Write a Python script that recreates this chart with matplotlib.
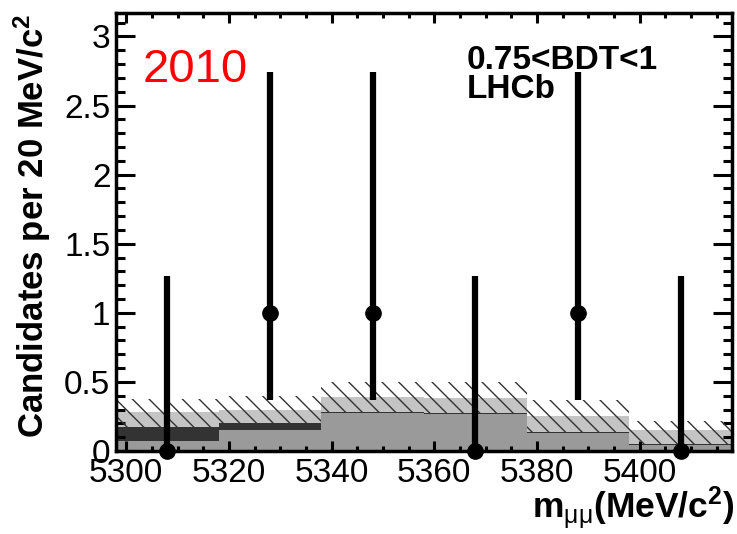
import matplotlib
matplotlib.use("Agg")
import matplotlib.pyplot as plt
import numpy as np
from matplotlib.ticker import MultipleLocator

plt.rcParams['font.family'] = ['Liberation Sans', 'DejaVu Sans']
plt.rcParams['hatch.linewidth'] = 1.0
plt.rcParams['mathtext.fontset'] = 'custom'
plt.rcParams['mathtext.rm'] = 'Liberation Sans:bold'
plt.rcParams['mathtext.it'] = 'Liberation Sans'
plt.rcParams['mathtext.bf'] = 'Liberation Sans:bold'

# Data
bin_edges = [5298, 5318, 5338, 5358, 5378, 5398, 5418]
bin_centers = [5308, 5328, 5348, 5368, 5388, 5408]
comb_bkg = [0.075, 0.15, 0.272, 0.268, 0.133, 0.04]
peak_bkg = [0.097, 0.05, 0.008, 0.007, 0.007, 0.01]
band_inner = [0.112, 0.10, 0.11, 0.105, 0.11, 0.10]
band_outer = [0.205, 0.20, 0.22, 0.225, 0.23, 0.17]
counts = [0, 1, 1, 0, 1, 0]
err_low = [0.0, 0.63, 0.63, 0.0, 0.63, 0.0]
err_high = [1.27, 1.74, 1.74, 1.27, 1.74, 1.27]
yticks = [0, 0.5, 1, 1.5, 2, 2.5, 3]
ytick_labels = ['0', '0.5', '1', '1.5', '2', '2.5', '3']

W, H = 737, 534
fig = plt.figure(figsize=(W / 100, H / 100), dpi=100)
ax = fig.add_axes([116 / W, 1 - 451 / H, (732 - 116) / W, (451 - 13) / H])

widths = np.diff(bin_edges)
comb = np.array(comb_bkg)
peak = np.array(peak_bkg)
base_top = comb + peak

ax.bar(bin_centers, comb, width=widths, color='#9a9a9a', linewidth=0, zorder=1)
ax.bar(bin_centers, peak, width=widths, bottom=comb, color='#333333', linewidth=0, zorder=1)
ax.bar(bin_centers, band_inner, width=widths, bottom=base_top, color='#c4c4c4', linewidth=0, zorder=1)
ax.bar(bin_centers, band_outer, width=widths, bottom=base_top, fill=False, hatch='\\\\',
       edgecolor='#333333', linewidth=0, zorder=2)

ax.errorbar(bin_centers, counts, yerr=[err_low, err_high], fmt='o', color='black',
            markersize=11, elinewidth=4.5, capsize=0, zorder=5, clip_on=False)

ax.set_xlim(5298, 5418)
ax.set_ylim(0, 3.17)
ax.xaxis.set_major_locator(MultipleLocator(20))
ax.xaxis.set_minor_locator(MultipleLocator(5))
ax.yaxis.set_minor_locator(MultipleLocator(0.1))
ax.set_yticks(yticks)
ax.set_yticklabels(ytick_labels)

ax.tick_params(axis='both', which='both', direction='in', top=True, right=True,
               labelsize=24, width=2.2, color='black')
ax.tick_params(axis='x', which='major', length=7.5, pad=5)
ax.tick_params(axis='x', which='minor', length=3.8)
ax.tick_params(axis='y', which='major', length=13.5, pad=4)
ax.tick_params(axis='y', which='minor', length=6.5)
for s in ax.spines.values():
    s.set_linewidth(2.5)

fig.text(32 / W, 1 - 226 / H, 'Candidates per 20 MeV/c$^{2}$', fontsize=25, fontweight='bold',
         rotation=90, ha='center', va='center')
fig.text(734 / W, 1 - 508 / H, r'm$_{\mu\mu}$(MeV/c$^{2}$)', fontsize=25.5, fontweight='bold',
         ha='right', va='center')

fig.text(143 / W, 1 - 70 / H, '2010', color='red', fontsize=34, ha='left', va='center')
fig.text(467 / W, 1 - 61 / H, '0.75<BDT<1', fontsize=24, fontweight='bold',
         ha='left', va='center')
fig.text(467 / W, 1 - 90 / H, 'LHCb', fontsize=24, fontweight='bold',
         ha='left', va='center')

fig.savefig('out.png', dpi=100)
